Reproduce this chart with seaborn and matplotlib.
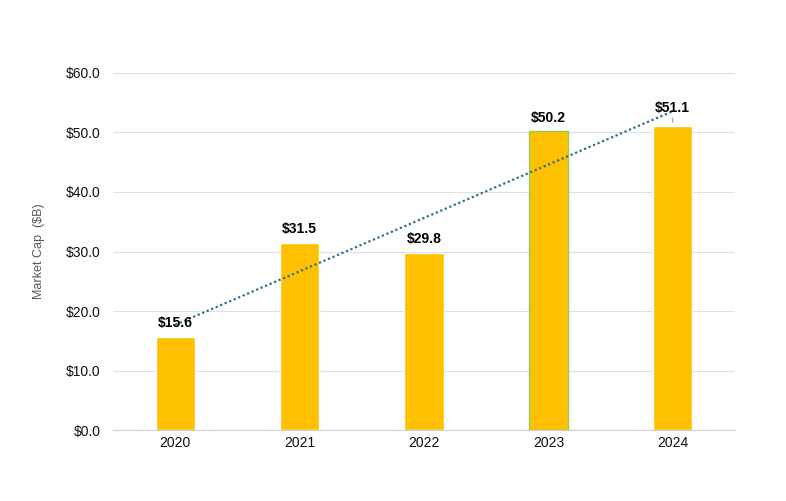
import numpy as np
import pandas as pd
import seaborn as sns
import matplotlib
import matplotlib.pyplot as plt

years = ['2020', '2021', '2022', '2023', '2024']
market_cap = [15.6, 31.5, 29.8, 50.2, 51.1]
y_ticks = [0, 10, 20, 30, 40, 50, 60]

df = pd.DataFrame({'year': years, 'cap': market_cap})

sns.set_style('white')
plt.rcParams['font.family'] = ['Liberation Sans', 'DejaVu Sans']

fig = plt.figure(figsize=(7.86, 5.01), dpi=100)
ax = fig.add_axes([0.1438, 0.1417, 0.7913, 0.7126])

sns.barplot(data=df, x='year', y='cap', color='#FFC000', saturation=1,
            width=0.315, ax=ax, zorder=2)
# green outline on 2023 bar like the original
ax.patches[3].set_edgecolor('#92D050')
ax.patches[3].set_linewidth(1)

# linear trendline
xs = np.arange(len(years))
slope, intercept = np.polyfit(xs, market_cap, 1)
ax.plot([xs[0], xs[-1]], [intercept, intercept + slope * xs[-1]],
        linestyle=(0, (1, 1.2)), color='#2E6E8E', linewidth=1.6, zorder=3)

for i, v in enumerate(market_cap):
    if i == 4:
        ax.annotate(f'${v:.1f}', xy=(i, v + 0.6), xytext=(i, v + 3.1),
                    ha='center', va='center', fontsize=10, fontweight='bold',
                    color='black',
                    arrowprops=dict(arrowstyle='-', color='#A0A0A0', lw=0.8,
                                    shrinkA=4, shrinkB=0), zorder=4)
    else:
        ax.text(i, v + 2.3, f'${v:.1f}', ha='center', va='center',
                fontsize=10, fontweight='bold', color='black', zorder=4)

ax.set_ylim(0, 60)
ax.set_xlim(-0.5, 4.5)
ax.set_yticks(y_ticks)
ax.set_yticklabels([f'${t:.1f}' for t in y_ticks])
ax.yaxis.grid(True, color='#E0E0E0', linewidth=0.8, zorder=0)
ax.set_axisbelow(True)
ax.tick_params(axis='both', length=0, labelsize=10, colors='#111111')
ax.tick_params(axis='y', pad=9)
ax.tick_params(axis='x', pad=4)
ax.set_xlabel('')
ax.set_ylabel('Market Cap  ($B)', color='#595959', fontsize=9, labelpad=15)

for s in ['top', 'right', 'left']:
    ax.spines[s].set_visible(False)
ax.spines['bottom'].set_color('#D0D0D0')

plt.savefig('out.png', dpi=100)
